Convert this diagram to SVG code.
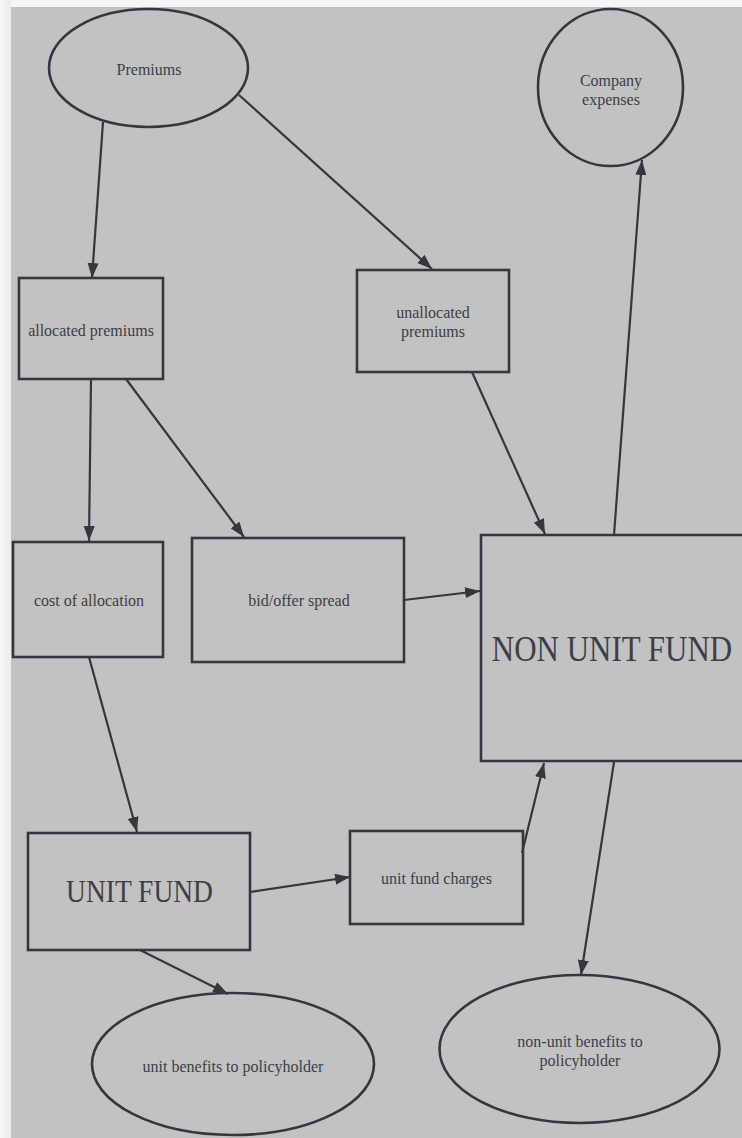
<svg xmlns="http://www.w3.org/2000/svg" width="742" height="1138" viewBox="0 0 742 1138">
<style>
.shape{fill:none;stroke:#34373e;stroke-width:2.6}
.conn{fill:none;stroke:#34373e;stroke-width:2.2}
.t{font-family:"Liberation Serif","Times New Roman",serif;font-size:16px;fill:#3c3f47;text-anchor:middle}
.big{font-family:"Liberation Serif","Times New Roman",serif;fill:#3c3f47;text-anchor:middle}
</style>
<defs>
<linearGradient id="edge" x1="0" y1="0" x2="1" y2="0">
<stop offset="0" stop-color="#f7f7f7"/>
<stop offset="1" stop-color="#ececec"/>
</linearGradient>
<marker id="ah" markerUnits="userSpaceOnUse" markerWidth="16" markerHeight="12" refX="15" refY="6" orient="auto">
<path d="M0,0.5 L15,6 L0,11.5 z" fill="#34373e"/>
</marker>
</defs>
<rect x="0" y="0" width="742" height="1138" fill="#f6f6f6"/>
<rect x="0" y="0" width="11" height="1138" fill="url(#edge)"/>
<rect x="11" y="7" width="731" height="1131" fill="#c2c2c2"/>

<g id="connectors">
<path class="conn" d="M103,122 L92,278" marker-end="url(#ah)"/>
<path class="conn" d="M239,95 L432,269" marker-end="url(#ah)"/>
<path class="conn" d="M91,379 L89,541" marker-end="url(#ah)"/>
<path class="conn" d="M126,379 L244,537" marker-end="url(#ah)"/>
<path class="conn" d="M472,372 L545,534" marker-end="url(#ah)"/>
<path class="conn" d="M614,535 L642,160" marker-end="url(#ah)"/>
<path class="conn" d="M404,600 L480,591" marker-end="url(#ah)"/>
<path class="conn" d="M89,657 L137,832" marker-end="url(#ah)"/>
<path class="conn" d="M250,892 L350,877" marker-end="url(#ah)"/>
<path class="conn" d="M522,853 L544,763" marker-end="url(#ah)"/>
<path class="conn" d="M614,762 L581,975" marker-end="url(#ah)"/>
<path class="conn" d="M140,950 L228,994" marker-end="url(#ah)"/>
</g>

<g id="premiums">
<ellipse class="shape" cx="148.5" cy="68" rx="99.5" ry="59"/>
<text class="t" x="149" y="75">Premiums</text>
</g>
<g id="company-expenses">
<ellipse class="shape" cx="610.5" cy="87.5" rx="72.5" ry="78.5"/>
<text class="t" x="611" y="86">Company</text>
<text class="t" x="611" y="105">expenses</text>
</g>
<g id="allocated-premiums">
<rect class="shape" x="19" y="278" width="144" height="101"/>
<text class="t" x="91" y="336">allocated premiums</text>
</g>
<g id="unallocated-premiums">
<rect class="shape" x="357" y="270" width="152" height="102"/>
<text class="t" x="433" y="318">unallocated</text>
<text class="t" x="433" y="337">premiums</text>
</g>
<g id="cost-of-allocation">
<rect class="shape" x="13" y="542" width="150" height="115"/>
<text class="t" x="89" y="606">cost of allocation</text>
</g>
<g id="bid-offer-spread">
<rect class="shape" x="192" y="538" width="212" height="124"/>
<text class="t" x="299" y="606">bid/offer spread</text>
</g>
<g id="non-unit-fund">
<path class="shape" d="M742,535 H481 V761 H742"/>
<text class="big" transform="translate(612,661) scale(1,1.15)" x="0" y="0" font-size="31">NON UNIT FUND</text>
</g>
<g id="unit-fund">
<rect class="shape" x="28" y="833" width="222" height="117"/>
<text class="big" transform="translate(139.5,902) scale(1,1.15)" x="0" y="0" font-size="27.5">UNIT FUND</text>
</g>
<g id="unit-fund-charges">
<rect class="shape" x="350" y="831" width="173" height="93"/>
<text class="t" x="436.5" y="884">unit fund charges</text>
</g>
<g id="unit-benefits">
<ellipse class="shape" cx="233" cy="1064" rx="141" ry="71"/>
<text class="t" x="233" y="1072">unit benefits to policyholder</text>
</g>
<g id="non-unit-benefits">
<ellipse class="shape" cx="579.5" cy="1049" rx="140" ry="74"/>
<text class="t" x="580" y="1047">non-unit benefits to</text>
<text class="t" x="580" y="1066">policyholder</text>
</g>
</svg>
